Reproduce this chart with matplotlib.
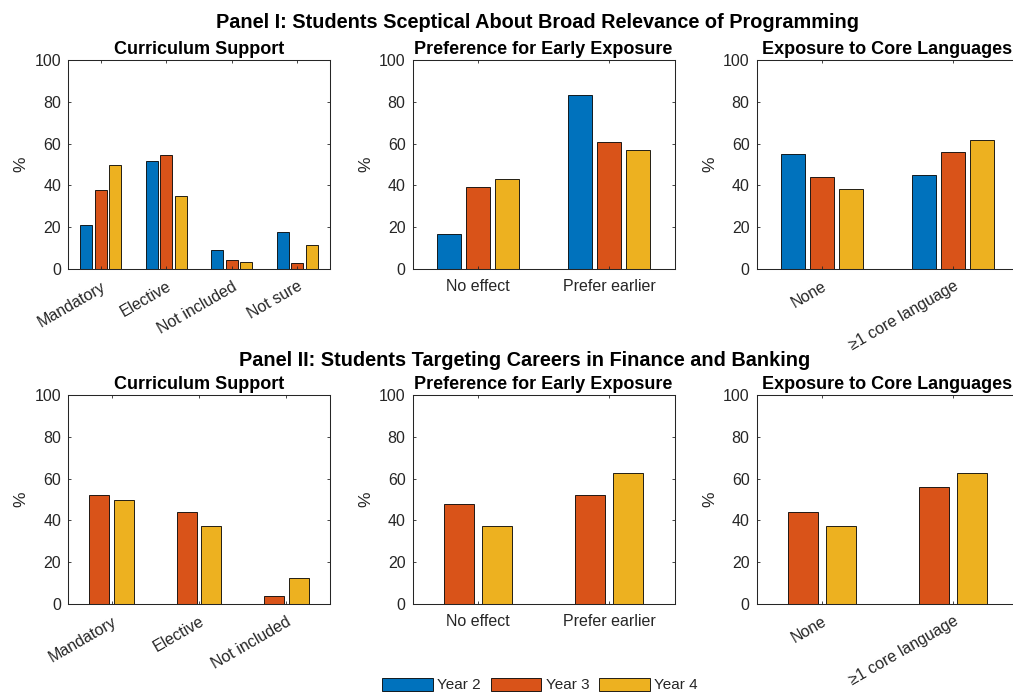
import matplotlib
matplotlib.use('Agg')
import matplotlib.pyplot as plt
import numpy as np
from matplotlib.patches import Patch

plt.rcParams['font.family'] = ['Liberation Sans', 'DejaVu Sans']

years = ['Year 2', 'Year 3', 'Year 4']
year_colors = ['#0072BD', '#D95319', '#EDB120']

curriculum_cats = ['Mandatory', 'Elective', 'Not included', 'Not sure']
preference_cats = ['No effect', 'Prefer earlier']
exposure_cats = ['None', '\u22651 core language']

# Panel I: sceptical students, years 2-4 (rows = year)
p1_curriculum = [[21.2, 51.9, 9.2, 17.7],
                 [37.9, 54.6, 4.5, 2.9],
                 [50.0, 34.9, 3.3, 11.6]]
p1_preference = [[16.7, 83.3],
                 [39.4, 60.6],
                 [43.3, 56.7]]
p1_exposure = [[55.0, 45.0],
               [44.0, 56.0],
               [38.5, 61.5]]

# Panel II: finance/banking students, years 3-4 only
p2_curriculum_cats = curriculum_cats[:3]
p2_curriculum = [[52.0, 44.0, 4.0],
                 [50.0, 37.5, 12.5]]
p2_preference = [[48.0, 52.0],
                 [37.5, 62.5]]
p2_exposure = [[44.0, 56.0],
               [37.5, 62.5]]

W, H = 1013, 693
ink = '#262626'


def grouped_bar(ax, cats, series, colors, title, rotate):
    n = len(series)
    group = min(0.8, n / (n + 1.5))
    step = group / n
    width = 0.8 * step
    x = np.arange(1, len(cats) + 1)
    for i, (vals, c) in enumerate(zip(series, colors)):
        ax.bar(x + (i - (n - 1) / 2) * step, vals, width, color=c,
               edgecolor='black', linewidth=0.6)
    ax.set_xlim(0.5, len(cats) + 0.5)
    ax.set_ylim(0, 100)
    ax.set_yticks(range(0, 101, 20))
    ax.set_xticks(x)
    if rotate:
        ax.set_xticklabels(cats, rotation=30, ha='right', va='top',
                           rotation_mode='anchor')
    else:
        ax.set_xticklabels(cats)
    ax.tick_params(axis='both', direction='in', length=2.5, width=0.6,
                   top=True, right=True, labelsize=11.5, colors=ink,
                   labelcolor=ink)
    ax.tick_params(axis='x', pad=7)
    ax.tick_params(axis='y', pad=5)
    for s in ax.spines.values():
        s.set_color(ink)
        s.set_linewidth(0.75)
    ax.set_ylabel('%', fontsize=12.5, color=ink)
    ax.yaxis.set_label_coords(-0.15, 0.5)
    ax.set_title(title, fontsize=13, fontweight='bold', pad=4.5)


fig = plt.figure(figsize=(W / 100, H / 100), dpi=100)

lefts = [68, 412.5, 756.5]
tops = [60, 395]
aw, ah = 262, 209

panels = [
    [(curriculum_cats, p1_curriculum, year_colors, 'Curriculum Support', True),
     (preference_cats, p1_preference, year_colors, 'Preference for Early Exposure', False),
     (exposure_cats, p1_exposure, year_colors, 'Exposure to Core Languages', True)],
    [(p2_curriculum_cats, p2_curriculum, year_colors[1:], 'Curriculum Support', True),
     (preference_cats, p2_preference, year_colors[1:], 'Preference for Early Exposure', False),
     (exposure_cats, p2_exposure, year_colors[1:], 'Exposure to Core Languages', True)],
]

for top, row in zip(tops, panels):
    for left, (cats, series, colors, title, rotate) in zip(lefts, row):
        ax = fig.add_axes([left / W, 1 - (top + ah) / H, aw / W, ah / H])
        grouped_bar(ax, cats, series, colors, title, rotate)

fig.text(537.5 / W, 1 - 28.5 / H,
         'Panel I: Students Sceptical About Broad Relevance of Programming',
         ha='center', va='baseline', fontsize=14.3, fontweight='bold')
fig.text(525 / W, 1 - 366 / H,
         'Panel II: Students Targeting Careers in Finance and Banking',
         ha='center', va='baseline', fontsize=14.3, fontweight='bold')

handles = [Patch(facecolor=c, edgecolor='black', linewidth=0.6) for c in year_colors]
fig.legend(handles, years, loc='center', bbox_to_anchor=(540 / W, 1 - 685 / H),
           ncol=3, frameon=False, fontsize=11, handlelength=3.3,
           handleheight=0.95, handletextpad=0.3, columnspacing=0.65,
           labelcolor=ink)

fig.savefig('out.png', dpi=100)
